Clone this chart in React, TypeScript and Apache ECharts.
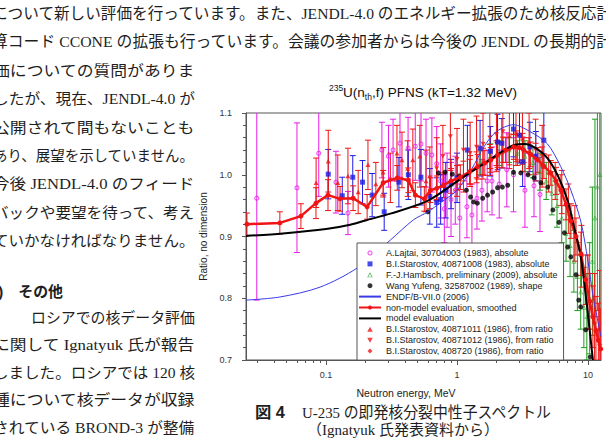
import React, { useEffect, useRef } from "react";
import * as echarts from "echarts";

// ---------- axes (energy in MeV on a log10 scale, ratio to Maxwellian) ----------
const E_MIN = 0.02449;
const E_MAX = 12.57;
const R_MIN = 0.7;
const R_MAX = 1.1;
const R_STEP = 0.1;
const energyTicks = [0.1, 1, 10];
const energyTickLabels = ["0.1", "1", "10"];
const energyMinorTicks = [
  0.03, 0.04, 0.05, 0.06, 0.07, 0.08, 0.09,
  0.2, 0.3, 0.4, 0.5, 0.6, 0.7, 0.8, 0.9,
  2, 3, 4, 5, 6, 7, 8, 9,
];

// ---------- A.Lajtai, 30704003 (1983) ----------
const lajtaiE = [0.0296, 0.06, 0.088, 0.119, 0.147, 0.267, 0.3, 0.325, 0.367, 0.423, 0.48, 0.531, 0.58, 0.643, 0.7, 0.75, 0.8, 0.84, 0.9, 0.97, 1.05, 1.19, 1.3, 1.42, 1.55, 1.7, 1.85, 2.1, 2.4, 2.7, 3.3, 3.87, 4.3];
const lajtaiR = [0.962, 0.979, 1.035, 0.988, 0.938, 1.04, 1.03, 1.04, 1.051, 1.043, 1.046, 1.05, 1.035, 1.032, 1.018, 0.99, 0.945, 0.975, 0.96, 0.975, 0.93, 0.948, 0.935, 0.962, 0.975, 0.99, 0.99, 0.985, 1.008, 1.0, 0.975, 0.982, 0.968];
const lajtaiErr = [0.165, 0.105, 0.07, 0.05, 0.035, 0.045, 0.05, 0.05, 0.055, 0.05, 0.055, 0.06, 0.055, 0.06, 0.06, 0.06, 0.055, 0.06, 0.06, 0.055, 0.055, 0.05, 0.05, 0.05, 0.05, 0.05, 0.055, 0.055, 0.06, 0.06, 0.06, 0.05, 0.06];

// ---------- B.I.Starostov, 40871008 (1983) ----------
const staro83E = [0.104, 0.133, 0.16, 0.19, 0.225, 0.278, 0.36, 0.425, 0.53, 0.62, 0.7, 0.75, 0.82, 0.9, 1.0, 1.2, 1.5, 1.8, 2.04, 2.2, 2.7, 3.0, 3.17, 3.6, 4.0, 4.6];
const staro83R = [1.001, 0.966, 0.996, 0.988, 0.967, 0.94, 0.988, 1.0, 0.996, 0.965, 0.955, 0.96, 0.975, 0.985, 0.995, 1.04, 1.043, 1.038, 1.053, 1.051, 1.074, 1.064, 1.021, 1.045, 1.03, 1.056];
const staro83Err = [0.04, 0.03, 0.035, 0.035, 0.035, 0.03, 0.04, 0.04, 0.045, 0.045, 0.04, 0.04, 0.045, 0.04, 0.04, 0.04, 0.045, 0.04, 0.045, 0.04, 0.045, 0.045, 0.04, 0.04, 0.04, 0.045];

// ---------- F.-J.Hambsch, preliminary (2009) ----------
const hambschE = [1.5, 1.8, 2.1, 2.5, 2.9, 3.3, 3.8, 4.3, 4.8, 5.3, 5.8, 6.3, 6.8, 7.3, 7.8, 8.3, 8.8, 9.3, 9.8, 10.3, 10.8, 11.3, 11.8, 12.3];
const hambschR = [1.02, 1.03, 1.035, 1.04, 1.035, 1.03, 1.02, 1.005, 0.99, 0.97, 0.95, 0.93, 0.905, 0.885, 0.86, 0.835, 0.81, 0.785, 0.77, 0.8, 0.86, 0.93, 0.98, 1.0];
const hambschErr = [0.02, 0.02, 0.02, 0.02, 0.02, 0.025, 0.025, 0.03, 0.03, 0.035, 0.035, 0.04, 0.045, 0.05, 0.05, 0.055, 0.06, 0.065, 0.07, 0.09, 0.12, 0.16, 0.2, 0.25];

// ---------- Wang Yufeng, 32587002 (1989), shape ----------
const wangE = [0.6, 0.72, 0.81, 0.92, 1.04, 1.18, 1.27, 1.34, 1.43, 1.57, 1.71, 1.87, 2.04, 2.22, 2.44, 2.7, 3.07, 3.48, 3.87, 4.37, 4.93, 5.4, 6.0, 6.6, 7.0, 7.4, 8.1, 8.5, 8.8, 9.6, 10.4];
const wangR = [0.94, 1.003, 1.004, 1.001, 0.998, 0.975, 0.964, 0.956, 0.954, 0.962, 0.967, 0.972, 0.979, 0.98, 0.983, 1.004, 1.003, 1.0, 0.995, 0.987, 0.98, 0.943, 0.923, 0.906, 0.883, 0.867, 0.838, 0.797, 0.786, 0.749, 0.705];

// ---------- ENDF/B-VII.0 (2006) ----------
const endfE = [0.0245, 0.0444, 0.09, 0.173, 0.309, 0.465, 0.6, 0.75, 1.0, 1.3, 1.6, 2.0, 2.7, 3.6, 4.9, 6.2, 7.4, 8.8, 10.0, 11.0, 12.57];
const endfR = [0.797, 0.802, 0.818, 0.849, 0.894, 0.927, 0.94, 0.955, 0.975, 1.01, 1.045, 1.07, 1.081, 1.07, 1.05, 1.013, 0.975, 0.925, 0.86, 0.8, 0.738];

// ---------- non-model evaluation, smoothed ----------
const evalE = [0.0249, 0.0444, 0.0643, 0.0838, 0.1035, 0.128, 0.161, 0.206, 0.273, 0.35, 0.425, 0.481, 0.563, 0.627, 0.7, 0.788, 0.9, 1.06, 1.25, 1.44, 1.63, 1.81, 2.04, 2.35, 2.71, 3.0, 3.23, 3.65, 4.14, 4.6, 5.2, 5.7, 6.21, 6.8, 7.41, 8.1, 8.84, 9.6, 10.3, 10.9, 11.5, 12.0, 12.5];
const evalR = [0.92, 0.922, 0.933, 0.954, 0.967, 0.961, 0.962, 0.948, 0.987, 0.995, 0.991, 0.967, 0.961, 0.975, 0.978, 0.983, 0.99, 0.996, 1.005, 1.013, 1.019, 1.024, 1.032, 1.04, 1.045, 1.044, 1.04, 1.033, 1.024, 1.014, 1.003, 0.99, 0.975, 0.952, 0.925, 0.9, 0.872, 0.83, 0.795, 0.77, 0.748, 0.732, 0.718];
const evalErr = [0.018, 0.018, 0.02, 0.025, 0.025, 0.02, 0.02, 0.02, 0.02, 0.02, 0.02, 0.02, 0.02, 0.02, 0.02, 0.02, 0.02, 0.02, 0.02, 0.02, 0.02, 0.02, 0.02, 0.02, 0.02, 0.02, 0.02, 0.02, 0.02, 0.02, 0.02, 0.022, 0.025, 0.025, 0.028, 0.03, 0.035, 0.04, 0.045, 0.05, 0.055, 0.06, 0.065];

// ---------- model evaluation ----------
const modelE = [0.0245, 0.0468, 0.1, 0.153, 0.2, 0.31, 0.6, 1.06, 1.8, 2.7, 3.3, 4.0, 4.9, 5.9, 7.0, 7.8, 8.8, 9.8, 10.9];
const modelR = [0.901, 0.905, 0.912, 0.919, 0.926, 0.937, 0.958, 0.993, 1.025, 1.048, 1.05, 1.043, 1.027, 0.998, 0.958, 0.917, 0.868, 0.79, 0.7];

// ---------- B.I.Starostov, 40871011 (1986), from ratio ----------
const staro11E = [0.084, 0.104, 0.123, 0.147, 0.176, 0.209, 0.24, 0.273, 0.31, 0.348, 0.38, 0.42, 0.46, 0.52, 0.58];
const staro11R = [0.987, 1.022, 0.987, 0.998, 0.972, 1.016, 0.985, 1.004, 0.995, 1.035, 1.024, 1.01, 1.024, 1.03, 0.99];
const staro11Err = [0.04, 0.05, 0.045, 0.045, 0.035, 0.04, 0.035, 0.04, 0.04, 0.045, 0.045, 0.045, 0.05, 0.05, 0.05];

// ---------- B.I.Starostov, 40871012 (1986), from ratio ----------
const staro12E = [0.62, 0.7, 0.78, 0.89, 1.0, 1.12, 1.26, 1.41, 1.58, 1.78, 2.0, 2.24, 2.51, 2.82, 3.16, 3.55, 3.98, 4.47];
const staro12R = [0.995, 1.01, 1.03, 1.062, 1.025, 1.04, 1.035, 1.045, 1.05, 1.06, 1.065, 1.07, 1.06, 1.065, 1.055, 1.05, 1.04, 1.03];
const staro12Err = [0.05, 0.05, 0.05, 0.055, 0.05, 0.05, 0.05, 0.05, 0.05, 0.05, 0.05, 0.05, 0.05, 0.05, 0.05, 0.05, 0.05, 0.05];

// ---------- B.I.Starostov, 408720 (1986), from ratio ----------
const staro20E = [1.0, 1.12, 1.26, 1.41, 1.58, 1.78, 2.0, 2.24, 2.51, 2.82, 3.16, 3.55, 3.98, 4.47, 5.01, 5.62, 6.31, 7.08, 7.94, 8.91, 10.0, 11.2, 12.3];
const staro20R = [0.99, 0.997, 1.006, 1.012, 1.018, 1.024, 1.03, 1.036, 1.041, 1.046, 1.042, 1.035, 1.026, 1.015, 1.002, 0.99, 0.972, 0.945, 0.905, 0.868, 0.81, 0.76, 0.725];
const staro20Err = [0.025, 0.025, 0.025, 0.025, 0.025, 0.025, 0.025, 0.025, 0.025, 0.025, 0.025, 0.025, 0.025, 0.03, 0.03, 0.03, 0.035, 0.04, 0.045, 0.05, 0.06, 0.08, 0.12];

// ---------- series names (legend order) ----------
const N_LAJTAI = "A.Lajtai, 30704003 (1983), absolute";
const N_STARO83 = "B.I.Starostov, 40871008 (1983), absolute";
const N_HAMBSCH = "F.-J.Hambsch, preliminary (2009), absolute";
const N_WANG = "Wang Yufeng, 32587002 (1989), shape";
const N_ENDF = "ENDF/B-VII.0 (2006)";
const N_EVAL = "non-model evaluation, smoothed";
const N_MODEL = "model evaluation";
const N_STARO11 = "B.I.Starostov, 40871011 (1986), from ratio";
const N_STARO12 = "B.I.Starostov, 40871012 (1986), from ratio";
const N_STARO20 = "B.I.Starostov, 408720 (1986), from ratio";

// ---------- surrounding page text ----------
const topLines = [
  "について新しい評価を行っています。また、JENDL-4.0 のエネルギー拡張のため核反応計",
  "算コード CCONE の拡張も行っています。会議の参加者からは今後の JENDL の長期的計",
];
const columnLines = [
  "価についての質問がありま",
  "したが、現在、JENDL-4.0 が",
  "公開されて間もないことも",
  "あり、展望を示していません。",
  "今後 JENDL-4.0 のフィード",
  "バックや要望を待って、考え",
  "ていかなければなりません。",
];
const headingText = "(3)\u3000その他";
const columnLines2 = [
  "ロシアでの核データ評価",
  "に関して Ignatyuk 氏が報告",
  "しました。ロシアでは 120 核",
  "種について核データが収録",
  "されている BROND-3 が整備",
];
const captionLabel = "図 4";
const captionTitle = "U-235 の即発核分裂中性子スペクトル";
const captionSource = "（Ignatyuk 氏発表資料から）";

const COLORS = {
  magenta: "#e81ee8",
  blue: "#1c1ce6",
  green: "#1f9a1f",
  red: "#f01414",
  black: "#000000",
  endf: "#3a3ae8",
  axis: "#555555",
  text: "#1e1e1e",
};

const SANS = '"Liberation Sans", Arial, sans-serif';
const JP = '"Liberation Serif", "Noto Sans CJK JP", serif';
const JP_BOLD = '"Liberation Sans", "Noto Sans CJK JP", sans-serif';

// marker outlines (drawn with their own aspect ratio in the legend)
const SQUARE = "path://M0,0 L10,0 L10,10 L0,10 Z";
const UP_TRIANGLE = "path://M5,0 L10,9 L0,9 Z";
const DOWN_TRIANGLE = "path://M0,0 L10,0 L5,9 Z";
const DIAMOND = "path://M5,0 L10,5 L5,10 L0,5 Z";
const OPEN_TRIANGLE = "path://M5,0 L10,9 L0,9 Z M5,2.6 L1.8,7.9 L8.2,7.9 Z";
const RING = "path://M5,0 A5,5 0 1,1 4.99,0 Z M5,2 A3,3 0 1,0 5.01,2 Z";

const lg = (e: number) => Math.log10(e);
const pts = (E: number[], R: number[]) => E.map((e, i) => [lg(e), R[i]]);
const bars = (E: number[], R: number[], Err: number[]) => E.map((e, i) => [lg(e), R[i], Err[i]]);

function errorBars(id: string, data: number[][], color: string, cap = 3) {
  return {
    type: "custom",
    id,
    name: id,
    data,
    clip: true,
    silent: true,
    renderItem: (_p: any, api: any) => {
      const x = api.value(0);
      const y = api.value(1);
      const e = api.value(2);
      const hi = api.coord([x, y + e]);
      const lo = api.coord([x, y - e]);
      const st = { stroke: color, lineWidth: 1 };
      return {
        type: "group",
        children: [
          { type: "line", shape: { x1: hi[0], y1: hi[1], x2: lo[0], y2: lo[1] }, style: st },
          { type: "line", shape: { x1: hi[0] - cap, y1: hi[1], x2: hi[0] + cap, y2: hi[1] }, style: st },
          { type: "line", shape: { x1: lo[0] - cap, y1: lo[1], x2: lo[0] + cap, y2: lo[1] }, style: st },
        ],
      };
    },
  };
}

function markers(name: string, data: number[][], symbol: string, color: string, size = 5) {
  return {
    type: "scatter",
    name,
    data,
    symbol,
    symbolSize: size,
    symbolKeepAspect: true,
    itemStyle: { color, borderColor: color, borderWidth: symbol.startsWith("empty") ? 1 : 0 },
    silent: true,
  };
}

function fitted(
  ctx: CanvasRenderingContext2D,
  text: string,
  x0: number,
  x1: number,
  y: number,
  size: number,
  family: string,
  weight = "normal"
) {
  ctx.font = `${weight} ${size}px ${family}`;
  const w = ctx.measureText(text).width || 1;
  return {
    type: "text",
    x: x0,
    y,
    scaleX: (x1 - x0) / w,
    silent: true,
    style: {
      text,
      fontSize: size,
      fontFamily: family,
      fontWeight: weight,
      fill: COLORS.text,
      textAlign: "left",
      textVerticalAlign: "middle",
    },
  };
}

function buildOption(ctx: CanvasRenderingContext2D) {
  const xMin = lg(E_MIN);
  const xMax = lg(E_MAX);
  const majorX = energyTicks.map(lg);
  const minorX = energyMinorTicks.map(lg);

  const pageText: any[] = [];
  const topY = [14, 42];
  topLines.forEach((t, i) => pageText.push(fitted(ctx, t, -8, 614, topY[i], 15.5, JP)));
  const colY = [71, 99, 128, 156, 184, 213, 241];
  columnLines.forEach((t, i) => pageText.push(fitted(ctx, t, -7, 195, colY[i], 15, JP)));
  pageText.push(fitted(ctx, headingText, -15, 63, 291, 15, JP_BOLD, "bold"));
  const col2Y = [318, 345, 373, 400, 428];
  columnLines2.forEach((t, i) =>
    pageText.push(fitted(ctx, t, i === 0 ? 31 : -7, 195, col2Y[i], 15, JP))
  );
  pageText.push(fitted(ctx, captionLabel, 255, 285, 412, 16, JP_BOLD, "bold"));
  pageText.push(fitted(ctx, captionTitle, 302, 552, 412, 15.5, JP));
  pageText.push(fitted(ctx, captionSource, 307, 499, 430, 15, JP));

  const legendIcons: Record<string, string | undefined> = {
    [N_LAJTAI]: RING,
    [N_STARO83]: SQUARE,
    [N_HAMBSCH]: OPEN_TRIANGLE,
    [N_WANG]: "circle",
    [N_STARO11]: UP_TRIANGLE,
    [N_STARO12]: DOWN_TRIANGLE,
    [N_STARO20]: DIAMOND,
  };
  const legendNames = [
    N_LAJTAI, N_STARO83, N_HAMBSCH, N_WANG, N_ENDF,
    N_EVAL, N_MODEL, N_STARO11, N_STARO12, N_STARO20,
  ];

  return {
    animation: false,
    backgroundColor: "#ffffff",
    grid: {
      left: 246,
      top: 113,
      right: 5,
      bottom: 86,
      show: true,
      borderColor: COLORS.axis,
      borderWidth: 1,
      backgroundColor: "transparent",
    },
    xAxis: [
      {
        type: "value",
        min: xMin,
        max: xMax,
        position: "bottom",
        axisLine: { show: true, onZero: false, lineStyle: { color: COLORS.axis } },
        axisTick: { show: true, length: 5, customValues: majorX, lineStyle: { color: COLORS.axis } },
        axisLabel: {
          customValues: majorX,
          formatter: (v: number) => {
            let best = 0;
            majorX.forEach((m, i) => {
              if (Math.abs(m - v) < Math.abs(majorX[best] - v)) best = i;
            });
            return energyTickLabels[best];
          },
          fontSize: 9,
          fontFamily: SANS,
          color: "#333",
          margin: 10,
        },
        splitLine: { show: false },
      },
      {
        type: "value",
        min: xMin,
        max: xMax,
        position: "bottom",
        axisLine: { show: false, onZero: false },
        axisTick: { show: true, length: 3, customValues: minorX, lineStyle: { color: COLORS.axis } },
        axisLabel: { show: false },
        splitLine: { show: false },
      },
    ],
    yAxis: {
      type: "value",
      min: R_MIN,
      max: R_MAX,
      interval: R_STEP,
      axisLine: { show: true, onZero: false, lineStyle: { color: COLORS.axis } },
      axisTick: { show: true, length: 4, lineStyle: { color: COLORS.axis } },
      minorTick: { show: true, splitNumber: 5, length: 3, lineStyle: { color: COLORS.axis } },
      axisLabel: {
        formatter: (v: number) => v.toFixed(1),
        fontSize: 9,
        fontFamily: SANS,
        color: "#333",
        margin: 14,
      },
      splitLine: { show: false },
      name: "Ratio, no dimension",
      nameLocation: "middle",
      nameGap: 31,
      nameTextStyle: { fontSize: 10, fontFamily: SANS, color: "#222" },
    },
    legend: {
      orient: "vertical",
      left: 357,
      top: 243,
      data: legendNames.map((n) => {
        if (n === N_ENDF || n === N_MODEL) return { name: n, itemStyle: { opacity: 0 } };
        const icon = legendIcons[n];
        return icon ? { name: n, icon } : { name: n };
      }),
      itemWidth: 22,
      itemHeight: 5,
      itemGap: 0.9,
      itemTextGap: 6,
      symbolKeepAspect: true,
      padding: [5, 6, 4, 1],
      backgroundColor: "#ffffff",
      borderColor: "#555",
      borderWidth: 1,
      borderRadius: 0,
      selectedMode: false,
      textStyle: { fontSize: 9, fontFamily: SANS, color: "#222", lineHeight: 10 },
    },
    graphic: [
      ...pageText,
      {
        type: "text",
        x: 423,
        y: 92,
        silent: true,
        style: {
          text: "{sup|235}{m|U(n}{sub|th}{m|,f) PFNS (kT=1.32 MeV)}",
          textAlign: "center",
          textVerticalAlign: "middle",
          fill: "#111",
          rich: {
            m: { fontSize: 13.5, fontFamily: SANS, lineHeight: 18, fill: "#111" },
            sup: { fontSize: 8.5, fontFamily: SANS, lineHeight: 11, verticalAlign: "top", fill: "#111" },
            sub: { fontSize: 8.5, fontFamily: SANS, lineHeight: 8, verticalAlign: "bottom", fill: "#111" },
          },
        },
      },
      {
        type: "text",
        x: 406,
        y: 393,
        silent: true,
        style: {
          text: "Neutron energy, MeV",
          fontSize: 10.5,
          fontFamily: SANS,
          fill: "#222",
          textAlign: "center",
          textVerticalAlign: "middle",
        },
      },
    ],
    series: [
      errorBars("lajtai-err", bars(lajtaiE, lajtaiR, lajtaiErr), COLORS.magenta),
      markers(N_LAJTAI, pts(lajtaiE, lajtaiR), RING, COLORS.magenta),
      errorBars("staro83-err", bars(staro83E, staro83R, staro83Err), COLORS.blue),
      markers(N_STARO83, pts(staro83E, staro83R), SQUARE, COLORS.blue),
      errorBars("hambsch-err", bars(hambschE, hambschR, hambschErr), COLORS.green),
      markers(N_HAMBSCH, pts(hambschE, hambschR), OPEN_TRIANGLE, COLORS.green),
      errorBars("staro11-err", bars(staro11E, staro11R, staro11Err), COLORS.red),
      markers(N_STARO11, pts(staro11E, staro11R), UP_TRIANGLE, COLORS.red),
      errorBars("staro12-err", bars(staro12E, staro12R, staro12Err), COLORS.red),
      markers(N_STARO12, pts(staro12E, staro12R), DOWN_TRIANGLE, COLORS.red),
      errorBars("staro20-err", bars(staro20E, staro20R, staro20Err), COLORS.red),
      markers(N_STARO20, pts(staro20E, staro20R), DIAMOND, COLORS.red),
      markers(N_WANG, pts(wangE, wangR), "circle", COLORS.black),
      {
        type: "line",
        name: N_ENDF,
        data: pts(endfE, endfR),
        smooth: 0.3,
        symbol: "none",
        lineStyle: { color: COLORS.endf, width: 1 },
        itemStyle: { color: COLORS.endf },
        silent: true,
      },
      errorBars("eval-err", bars(evalE, evalR, evalErr), COLORS.red),
      {
        type: "line",
        name: N_EVAL,
        data: pts(evalE, evalR),
        symbol: "circle",
        symbolSize: 5,
        showSymbol: true,
        lineStyle: { color: COLORS.red, width: 2.5 },
        itemStyle: { color: COLORS.red },
        silent: true,
      },
      {
        type: "line",
        name: N_MODEL,
        data: pts(modelE, modelR),
        smooth: 0.3,
        symbol: "none",
        lineStyle: { color: COLORS.black, width: 2 },
        itemStyle: { color: COLORS.black },
        silent: true,
      },
    ],
  };
}

export default function App() {
  const ref = useRef<HTMLDivElement>(null);
  useEffect(() => {
    if (!ref.current) return;
    const canvas = document.createElement("canvas");
    const ctx = canvas.getContext("2d") as CanvasRenderingContext2D;
    const chart = echarts.init(ref.current, null, { renderer: "svg" });
    chart.setOption(buildOption(ctx) as any);
    return () => chart.dispose();
  }, []);
  return (
    <div
      ref={ref}
      style={{ position: "fixed", left: 0, top: 0, width: 606, height: 446, background: "#fff" }}
    />
  );
}
